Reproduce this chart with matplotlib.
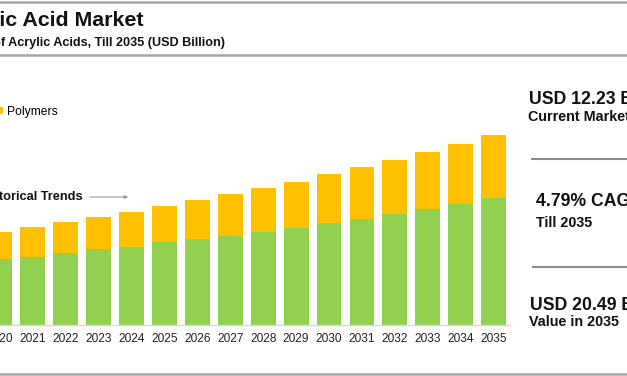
import matplotlib
matplotlib.use("Agg")
import matplotlib.pyplot as plt
from matplotlib.lines import Line2D
from matplotlib.patches import FancyArrowPatch
import numpy as np

plt.rcParams['font.family'] = ['Liberation Sans', 'DejaVu Sans']

years = [str(y) for y in range(2020, 2036)]
esters = [7.12, 7.33, 7.76, 8.20, 8.41, 8.95, 9.27, 9.60, 10.03, 10.51, 11.00, 11.43, 11.97, 12.51, 13.05, 13.70]
totals = [10.03, 10.57, 11.11, 11.65, 12.23, 12.83, 13.48, 14.13, 14.77, 15.42, 16.28, 17.04, 17.79, 18.66, 19.52, 20.49]
polymers = [t - e for t, e in zip(totals, esters)]
series_names = ["Acrylic Esters", "Polymers"]

W, H = 627, 376
fig = plt.figure(figsize=(W / 100, H / 100), dpi=100)

def fx(px):
    return px / W

def fy(py):
    return 1 - py / H

ax = fig.add_axes([fx(0), fy(325), fx(510), (325 - 130) / H])
x = np.arange(len(years))
green = "#92D050"
yellow = "#FFC000"
ax.bar(x, esters, width=0.755, color=green, label=series_names[0], zorder=2)
ax.bar(x, polymers, width=0.755, bottom=esters, color=yellow, label=series_names[1], zorder=2)
ax.set_xlim(0.0906, 15.5)
ax.set_ylim(0, 195 * 20.49 / 190)
ax.set_xticks(x)
ax.set_xticklabels(years, fontsize=8.6, color="#222222")
ax.tick_params(axis='x', length=0, pad=6)
ax.set_yticks([])
for s in ['left', 'right', 'top']:
    ax.spines[s].set_visible(False)
ax.spines['bottom'].set_color("#D9D9D9")
ax.spines['bottom'].set_linewidth(1.0)

# legend (first entry cut off at left edge)
handles = ax.get_legend_handles_labels()[0]
leg_x = -95.0
leg = fig.legend(handles=handles, labels=series_names,
                 loc='center left', bbox_to_anchor=(fx(leg_x), fy(112)), ncol=2,
                 frameon=False, fontsize=8.7, handlelength=0.45, handleheight=0.45,
                 handletextpad=0.35, columnspacing=1.2, borderpad=0, borderaxespad=0)
fig.canvas.draw()
tx0 = leg.get_texts()[1].get_window_extent().x0
leg.set_bbox_to_anchor((fx(leg_x + (7 - tx0)), fy(112)), transform=fig.transFigure)

# title / subtitle
fig.text(fx(143), fy(26), "Acrylic Acid Market", fontsize=15.4, fontweight='bold',
         ha='right', va='baseline', color="#111111")
fig.text(fx(225), fy(46), "Market Size of Acrylic Acids, Till 2035 (USD Billion)",
         fontsize=9.1, fontweight='bold', ha='right', va='baseline', color="#111111")

# frame lines
line_c = "#A6A6A6"
fig.add_artist(Line2D([0, 1], [fy(2), fy(2)], color=line_c, lw=1.8))
fig.add_artist(Line2D([0, 1], [fy(55), fy(55)], color=line_c, lw=1.8))
fig.add_artist(Line2D([0, 1], [fy(374), fy(374)], color=line_c, lw=1.8))

# historical trends
fig.text(fx(83), fy(197), "Historical Trends", fontsize=9.2, fontweight='bold',
         ha='right', va='center', color="#111111")
fig.add_artist(FancyArrowPatch((fx(87), fy(197)), (fx(131), fy(197)),
               transform=fig.transFigure, arrowstyle='-|>', mutation_scale=5,
               color="#999999", lw=0.8))

# right panel
big, small = 12.7, 10.3
fig.text(fx(529), fy(104), "USD 12.23 Billion", fontsize=big, fontweight='bold',
         ha='left', va='baseline', color="#111111")
fig.text(fx(528.5), fy(121), "Current Market Size", fontsize=small, fontweight='bold',
         ha='left', va='baseline', color="#111111")
fig.add_artist(Line2D([fx(532), 1], [fy(159), fy(159)], color="#8C8C8C", lw=1.5))
fig.text(fx(535.5), fy(205.7), "4.79% CAGR", fontsize=big, fontweight='bold',
         ha='left', va='baseline', color="#111111")
fig.text(fx(535.5), fy(227), "Till 2035", fontsize=small, fontweight='bold',
         ha='left', va='baseline', color="#111111")
fig.add_artist(Line2D([fx(533), 1], [fy(267), fy(267)], color="#8C8C8C", lw=1.5))
fig.text(fx(530), fy(310), "USD 20.49 Billion", fontsize=big, fontweight='bold',
         ha='left', va='baseline', color="#111111")
fig.text(fx(529), fy(326), "Value in 2035", fontsize=small, fontweight='bold',
         ha='left', va='baseline', color="#111111")

fig.savefig("out.png", dpi=100)
